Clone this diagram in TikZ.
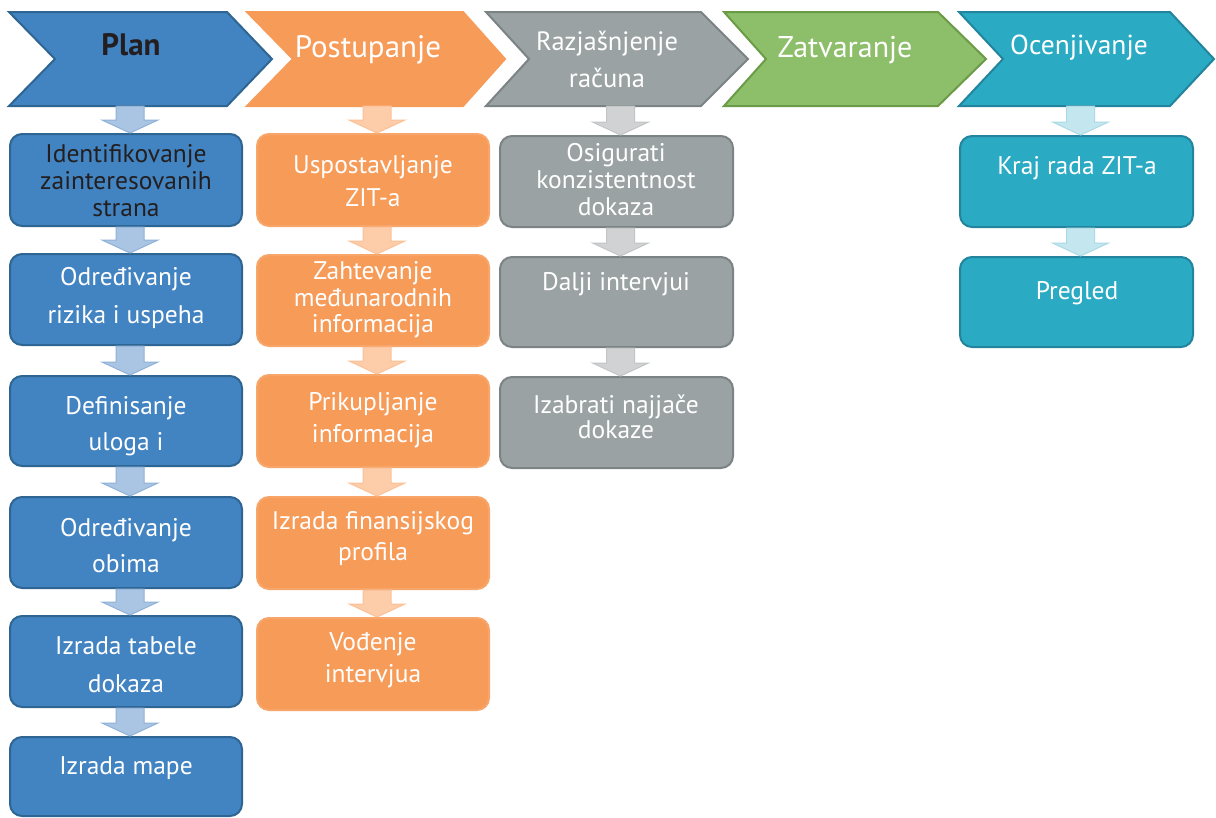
\documentclass[tikz,border=0pt]{standalone}
\usepackage{fontspec}
\setmainfont{PT Sans}
\usetikzlibrary{calc}
\definecolor{blueF}{HTML}{4283C1}
\definecolor{blueD}{HTML}{2E6592}
\definecolor{orangeF}{HTML}{F79B59}
\definecolor{orangeD}{HTML}{F8A56A}
\definecolor{grayF}{HTML}{9BA2A3}
\definecolor{grayD}{HTML}{7C8385}
\definecolor{greenF}{HTML}{8DBF6A}
\definecolor{greenD}{HTML}{6C9B48}
\definecolor{tealF}{HTML}{2BAAC4}
\definecolor{tealD}{HTML}{23849D}
\definecolor{blueA}{HTML}{A9C5E3}
\definecolor{blueAD}{HTML}{8EB1D8}
\definecolor{orangeA}{HTML}{FDCCA8}
\definecolor{orangeAD}{HTML}{FCC197}
\definecolor{grayA}{HTML}{D0D2D3}
\definecolor{grayAD}{HTML}{C2C5C6}
\definecolor{tealA}{HTML}{C4E6EF}
\definecolor{tealAD}{HTML}{A9DAE6}
\definecolor{darktext}{HTML}{231F20}
\newcommand\mkbox[6]{\node[box,#6,minimum width={(#4-#2)*1pt},minimum height={(#5-#3)*1pt}] (#1) at ({(#2+#4)/2},{(#3+#5)/2}) {};}
\newcommand\blockarr[3]{\draw[#3] let \p1=(#1), \p2=(#2) in
  ({\x2+4pt-14pt},\y1) -- ({\x2+4pt+14pt},\y1) -- ({\x2+4pt+14pt},{\y2+13pt}) -- ({\x2+4pt+28pt},{\y2+13pt})
  -- ({\x2+4pt},\y2) -- ({\x2+4pt-28pt},{\y2+13pt}) -- ({\x2+4pt-14pt},{\y2+13pt}) -- cycle;}
\newcommand\chev[6]{\draw[chevron,#6] (#2,12) -- (#4,12) -- (#5,59) -- (#4,106) -- (#2,106) -- (#3,59) -- cycle;
  \coordinate (#1) at ({(#2+#4)/2},106);}
\begin{document}
\begin{tikzpicture}[x=1pt,y=-1pt,
  box/.style={draw,line width=2pt,rounded corners=12pt,inner sep=0pt},
  chevron/.style={line width=2pt,line join=miter},
  txt/.style={font={\fontsize{25.5pt}{#1pt}\selectfont},align=center,inner sep=0pt,text=white},
  txt/.default=32,
  htxt/.style={font={\fontsize{#1pt}{37pt}\selectfont},align=center,inner sep=0pt,text=white},
  bluebox/.style={fill=blueF,draw=blueD},
  orangebox/.style={fill=orangeF,draw=orangeD},
  graybox/.style={fill=grayF,draw=grayD},
  tealbox/.style={fill=tealF,draw=tealD},
  bluearr/.style={fill=blueA,draw=blueAD,line width=1pt},
  orangearr/.style={fill=orangeA,draw=orangeAD,line width=1pt},
  grayarr/.style={fill=grayA,draw=grayAD,line width=1pt},
  tealarr/.style={fill=tealA,draw=tealAD,line width=1pt}]
\useasboundingbox (0,0) rectangle (1216,817);
\fill[white] (0,0) rectangle (1216,817);
% header chevrons
\chev{hP}{9}{55}{227}{272}{fill=blueF,draw=blueD}
\chev{hO}{247}{293}{463}{505}{fill=orangeF,draw=orangeF}
\chev{hG}{486}{529}{701}{748}{fill=grayF,draw=grayD}
\chev{hZ}{724}{766}{938}{986}{fill=greenF,draw=greenD}
\chev{hT}{959}{1003}{1170}{1214}{fill=tealF,draw=tealD}
\node[htxt=31,text=darktext,font={\fontsize{31pt}{37pt}\selectfont\bfseries}] (hPt) at (131,45) {Plan};
\node[htxt=31] (hOt) at (368,50) {Postupanje};
\node[htxt=26.5] (hGt) at (607,59) {Razjašnjenje\\računa};
\node[htxt=30] (hZt) at (845,50) {Zatvaranje};
\node[htxt=27.5] (hTt) at (1079,48) {Ocenjivanje};
% boxes
\mkbox{b1}{10}{134}{242}{226}{bluebox}
\mkbox{b2}{10}{254}{242}{345}{bluebox}
\mkbox{b3}{10}{376}{242}{466}{bluebox}
\mkbox{b4}{10}{497}{242}{588}{bluebox}
\mkbox{b5}{10}{616}{242}{707}{bluebox}
\mkbox{b6}{10}{737}{242}{816}{bluebox}
\mkbox{o1}{257}{134}{489}{226}{orangebox}
\mkbox{o2}{257}{255}{489}{346}{orangebox}
\mkbox{o3}{257}{375}{489}{467}{orangebox}
\mkbox{o4}{257}{497}{489}{589}{orangebox}
\mkbox{o5}{257}{618}{489}{710}{orangebox}
\mkbox{g1}{500}{136}{733}{227}{graybox}
\mkbox{g2}{500}{257}{733}{347}{graybox}
\mkbox{g3}{500}{377}{733}{468}{graybox}
\mkbox{t1}{960}{136}{1193}{227}{tealbox}
\mkbox{t2}{960}{257}{1193}{347}{tealbox}
% arrows
\blockarr{hP}{b1.north}{bluearr}
\blockarr{b1.south}{b2.north}{bluearr}
\blockarr{b2.south}{b3.north}{bluearr}
\blockarr{b3.south}{b4.north}{bluearr}
\blockarr{b4.south}{b5.north}{bluearr}
\blockarr{b5.south}{b6.north}{bluearr}
\blockarr{hO}{o1.north}{orangearr}
\blockarr{o1.south}{o2.north}{orangearr}
\blockarr{o2.south}{o3.north}{orangearr}
\blockarr{o3.south}{o4.north}{orangearr}
\blockarr{o4.south}{o5.north}{orangearr}
\blockarr{hG}{g1.north}{grayarr}
\blockarr{g1.south}{g2.north}{grayarr}
\blockarr{g2.south}{g3.north}{grayarr}
\blockarr{hT}{t1.north}{tealarr}
\blockarr{t1.south}{t2.north}{tealarr}
% texts
\node[txt=27,text=darktext] (b1t) at (126,181) {Identifikovanje\\zainteresovanih\\strana};
\node[txt=38] (b2t) at (126,298) {Određivanje\\rizika i uspeha};
\node[txt=36] (b3t) at (126,426) {Definisanje\\uloga i};
\node[txt=36] (b4t) at (126,546) {Određivanje\\obima};
\node[txt=38] (b5t) at (126,665) {Izrada tabele\\dokaza};
\node[txt] (b6t) at (126,768) {Izrada mape};
\node[txt=33] (o1t) at (373,181) {Uspostavljanje\\ZIT-a};
\node[txt=26.5] (o2t) at (373,300) {Zahtevanje\\međunarodnih\\informacija};
\node[txt=32] (o3t) at (373,420) {Prikupljanje\\informacija};
\node[txt=31] (o4t) at (373,539) {Izrada finansijskog\\profila};
\node[txt=32] (o5t) at (373,660) {Vođenje\\intervjua};
\node[txt=27] (g1t) at (616,180) {Osigurati\\konzistentnost\\dokaza};
\node[txt] (g2t) at (616,284) {Dalji intervjui};
\node[txt=25.5] (g3t) at (616,417) {Izabrati najjače\\dokaze};
\node[txt] (t1t) at (1077,168) {Kraj rada ZIT-a};
\node[txt] (t2t) at (1077,293) {Pregled};
\end{tikzpicture}
\end{document}
